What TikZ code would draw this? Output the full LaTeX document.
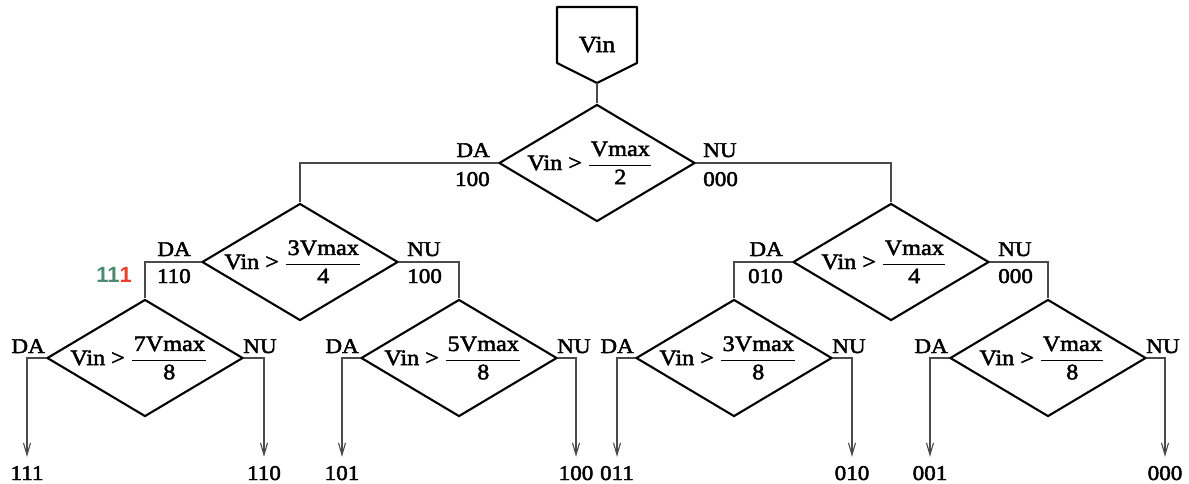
\documentclass[tikz,border=0pt]{standalone}
\usepackage{fontspec}
\setmainfont[FakeStretch=1.1,FakeBold=2.2]{Liberation Serif}
\newfontfamily\sansb{Liberation Sans}
\usetikzlibrary{shapes.geometric,arrows.meta}
\definecolor{conngray}{HTML}{4A4A4A}
\definecolor{markgreen}{HTML}{4E8A72}
\definecolor{markred}{HTML}{E8402A}
\newcommand{\fr}[2]{Vin > $\displaystyle\frac{\mbox{\hspace{1.5pt}#1\hspace{1.5pt}}}{\mbox{#2}}$}
\begin{document}
\begin{tikzpicture}[x=1pt,y=-1pt,
  dia/.style={diamond, draw=black, line width=2.1pt, minimum width=196pt, minimum height=117pt, inner sep=0pt, line join=miter},
  cond/.style={font=\fontsize{22}{24}\selectfont, inner sep=0pt, anchor=base},
  lab/.style={font=\fontsize{21}{23}\selectfont, inner sep=0pt},
  conn/.style={draw=conngray, line width=1.1pt},
  arr/.style={conn, -{Straight Barb[length=12pt,width=7pt]}, shorten >=9pt},
]
\fill[white] (0,0) rectangle (1189,483);
\useasboundingbox (0,0) rectangle (1189,483);

% start block
\draw[line width=2.1pt, line join=round] (557,7) -- (637,7) -- (637,63) -- (597,83) -- (557,63) -- cycle;
\node[lab, anchor=base, font=\fontsize{23}{25}\selectfont] (vin) at (597,52) {Vin};
\coordinate (vintip) at (597,83);

% decision diamonds
\node[dia] (d1) at (597,163) {};
\node[dia] (d2) at (300,262) {};
\node[dia] (d3) at (891,262) {};
\node[dia] (d4) at (145,358) {};
\node[dia] (d5) at (459,358) {};
\node[dia] (d6) at (734,358) {};
\node[dia] (d7) at (1048,358) {};

\node[cond] (c1) at (590,170) {\fr{Vmax}{2}};
\node[cond] (c2) at (293,269) {\fr{3Vmax}{4}};
\node[cond] (c3) at (884,269) {\fr{Vmax}{4}};
\node[cond] (c4) at (139,365) {\fr{7Vmax}{8}};
\node[cond] (c5) at (453,365) {\fr{5Vmax}{8}};
\node[cond] (c6) at (728,365) {\fr{3Vmax}{8}};
\node[cond] (c7) at (1042,365) {\fr{Vmax}{8}};

% branch labels, levels 1 and 2
\node[lab, anchor=base east] (da1) at ([xshift=-8pt,yshift=6pt]d1.west) {DA};
\node[lab, anchor=base east] (b1) at ([xshift=-8pt,yshift=-23pt]d1.west) {100};
\node[lab, anchor=base west] (nu1) at ([xshift=7pt,yshift=6pt]d1.east) {NU};
\node[lab, anchor=base west] (a1) at ([xshift=7pt,yshift=-23pt]d1.east) {000};

\node[lab, anchor=base east] (da2) at ([xshift=-10pt,yshift=6pt]d2.west) {DA};
\node[lab, anchor=base east] (b2) at ([xshift=-10pt,yshift=-21pt]d2.west) {110};
\node[lab, anchor=base west] (nu2) at ([xshift=8pt,yshift=6pt]d2.east) {NU};
\node[lab, anchor=base west] (a2) at ([xshift=8pt,yshift=-21pt]d2.east) {100};

\node[lab, anchor=base east] (da3) at ([xshift=-9pt,yshift=6pt]d3.west) {DA};
\node[lab, anchor=base east] (b3) at ([xshift=-9pt,yshift=-21pt]d3.west) {010};
\node[lab, anchor=base west] (nu3) at ([xshift=8pt,yshift=6pt]d3.east) {NU};
\node[lab, anchor=base west] (a3) at ([xshift=8pt,yshift=-21pt]d3.east) {000};

% branch labels, level 3
\foreach \d in {4,5,6,7}{
  \node[lab, anchor=base east] (da\d) at ([xshift=-1pt,yshift=5pt]d\d.west) {DA};
  \node[lab, anchor=base west] (nu\d) at ([xshift=-1pt,yshift=5pt]d\d.east) {NU};
}

% marker
\node[inner sep=0pt, anchor=base, font=\sansb\bfseries\fontsize{22}{24}\selectfont] (mark) at (114,282)
  {\textcolor{markgreen}{11}\textcolor{markred}{1}};

% leaves
\node[lab, anchor=base] (l1) at (27,480) {111};
\node[lab, anchor=base] (l2) at (264,480) {110};
\node[lab, anchor=base] (l3) at (342,480) {101};
\node[lab, anchor=base] (l4) at (576,480) {100};
\node[lab, anchor=base] (l5) at (617,480) {011};
\node[lab, anchor=base] (l6) at (852,480) {010};
\node[lab, anchor=base] (l7) at (930,480) {001};
\node[lab, anchor=base] (l8) at (1165,480) {000};

% connectors
\draw[conn] (vintip) -- (d1.north);
\draw[conn] (d1.west) -| (d2.north);
\draw[conn] (d1.east) -| (d3.north);
\draw[conn] (d2.west) -| (d4.north);
\draw[conn] (d2.east) -| (d5.north);
\draw[conn] (d3.west) -| (d6.north);
\draw[conn] (d3.east) -| (d7.north);

\draw[arr] (d4.west) -| (l1.north);
\draw[arr] (d4.east) -| (l2.north);
\draw[arr] (d5.west) -| (l3.north);
\draw[arr] (d5.east) -| (l4.north);
\draw[arr] (d6.west) -| (l5.north);
\draw[arr] (d6.east) -| (l6.north);
\draw[arr] (d7.west) -| (l7.north);
\draw[arr] (d7.east) -| (l8.north);
\end{tikzpicture}
\end{document}
